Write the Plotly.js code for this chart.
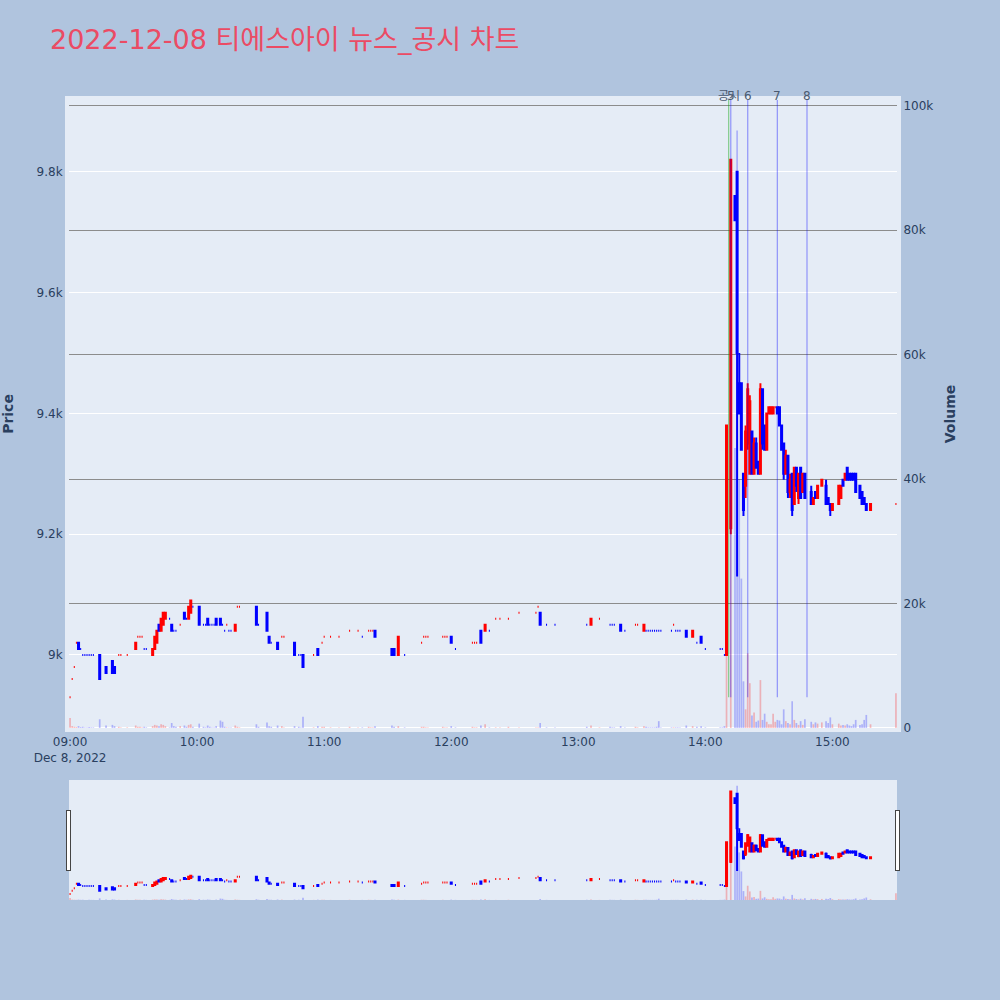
<!DOCTYPE html>
<html>
<head>
<meta charset="utf-8">
<script src="https://cdn.plot.ly/plotly-3.0.1.min.js"></script>
<style>html,body{margin:0;padding:0;background:#B0C4DE;}</style>
</head>
<body>
<div id="chart" style="width:1000px;height:1000px;"></div>
<script>
const day = '2022-12-08';
const chartTitle = '2022-12-08 티에스아이 뉴스_공시 차트';

const times = [
'09:00','09:01','09:02','09:03','09:04','09:05','09:06','09:07','09:08','09:09',
'09:10','09:11','09:14','09:17','09:20','09:21','09:23','09:24','09:27','09:31',
'09:32','09:33','09:34','09:35','09:36','09:39','09:40','09:41','09:42','09:43',
'09:44','09:45','09:47','09:48','09:49','09:50','09:52','09:54','09:55','09:56',
'09:57','09:58','10:01','10:03','10:04','10:05','10:06','10:07','10:08','10:09',
'10:11','10:12','10:13','10:14','10:15','10:16','10:18','10:19','10:20','10:28',
'10:29','10:33','10:34','10:35','10:38','10:40','10:41','10:46','10:48','10:49',
'10:50','10:55','10:57','10:59','11:00','11:03','11:07','11:12','11:16','11:18',
'11:21','11:22','11:23','11:24','11:32','11:33','11:35','11:38','11:46','11:47',
'11:48','11:49','11:56','11:57','11:58','12:00','12:02','12:10','12:11','12:12',
'12:14','12:16','12:18','12:21','12:23','12:27','12:32','12:40','12:41','12:42',
'12:45','12:49','13:04','13:06','13:10','13:15','13:16','13:17','13:20','13:22',
'13:27','13:28','13:31','13:32','13:33','13:34','13:35','13:36','13:37','13:38',
'13:39','13:44','13:45','13:46','13:47','13:48','13:51','13:54','13:56','13:58',
'14:00','14:07','14:08','14:09','14:10','14:12','14:14','14:15','14:16','14:17',
'14:18','14:19','14:20','14:21','14:22','14:23','14:24','14:25','14:26','14:27',
'14:28','14:29','14:30','14:31','14:32','14:33','14:34','14:35','14:36','14:37',
'14:38','14:39','14:40','14:41','14:42','14:43','14:44','14:45','14:46','14:47',
'14:50','14:51','14:52','14:53','14:55','14:57','14:58','14:59','15:00','15:03',
'15:04','15:05','15:06','15:07','15:08','15:09','15:10','15:11','15:13','15:14',
'15:15','15:16','15:18','15:30'
];

const opens = [
8930,8960,8980,9020,9020,9010,9000,9000,9000,9000,
9000,9000,9000,8980,8990,8980,9000,9000,9000,9010,
9030,9030,9030,9010,9010,9000,9010,9020,9050,9040,
9050,9060,9060,9050,9040,9040,9050,9070,9060,9060,
9070,9080,9080,9050,9050,9060,9050,9050,9050,9060,
9060,9050,9040,9050,9040,9040,9040,9080,9080,9080,
9050,9070,9030,9020,9020,9030,9030,9020,9000,9000,
9000,9000,9010,9020,9030,9030,9030,9040,9040,9030,
9040,9040,9040,9040,9010,9010,9000,9000,9020,9030,
9030,9030,9030,9030,9030,9030,9010,9020,9020,9020,
9040,9040,9040,9060,9060,9060,9070,9070,9080,9070,
9050,9050,9050,9050,9060,9050,9050,9050,9050,9040,
9050,9050,9040,9040,9040,9040,9040,9040,9040,9040,
9040,9040,9050,9040,9040,9040,9040,9030,9020,9030,
9010,9010,9010,9000,9000,9210,9760,9800,9450,9450,
9300,9280,9350,9300,9370,9300,9350,9320,9300,9440,
9380,9340,9400,9400,9400,9410,9410,9410,9380,9350,
9300,9330,9270,9300,9250,9310,9260,9310,9270,9300,
9270,9250,9270,9260,9280,9280,9260,9250,9240,9250,
9260,9290,9290,9310,9300,9300,9300,9300,9280,9270,
9260,9250,9240,9250
];

const highs = [
8930,8960,8980,9020,9020,9010,9000,9000,9000,9000,
9000,9000,9000,8980,8990,8980,9000,9000,9000,9020,
9030,9030,9030,9010,9010,9010,9030,9040,9050,9060,
9070,9070,9060,9050,9040,9040,9050,9070,9060,9080,
9090,9080,9080,9050,9050,9060,9050,9050,9050,9060,
9060,9050,9040,9050,9040,9040,9050,9080,9080,9080,
9050,9070,9030,9020,9020,9030,9030,9020,9000,9000,
9000,9000,9010,9020,9030,9030,9030,9040,9040,9030,
9040,9040,9040,9040,9010,9010,9030,9000,9020,9030,
9030,9030,9030,9030,9030,9030,9010,9020,9020,9020,
9040,9050,9040,9060,9060,9060,9070,9070,9080,9070,
9050,9050,9050,9060,9060,9050,9050,9050,9050,9040,
9050,9050,9050,9040,9040,9040,9040,9040,9040,9040,
9040,9040,9050,9040,9040,9040,9040,9040,9020,9030,
9010,9010,9010,9000,9380,9820,9760,9800,9500,9450,
9300,9380,9450,9430,9370,9360,9360,9320,9450,9440,
9380,9400,9410,9410,9410,9410,9410,9410,9380,9350,
9340,9330,9300,9300,9310,9310,9300,9310,9300,9300,
9280,9260,9270,9280,9290,9290,9260,9250,9250,9280,
9280,9290,9300,9310,9300,9300,9300,9300,9280,9270,
9260,9250,9250,9250
];

const lows = [
8930,8960,8980,9020,9010,9010,9000,9000,9000,9000,
9000,9000,8960,8970,8970,8970,9000,9000,9000,9010,
9030,9030,9030,9010,9010,9000,9010,9020,9040,9040,
9050,9060,9060,9040,9040,9040,9050,9060,9060,9060,
9070,9080,9050,9050,9050,9050,9050,9050,9050,9050,
9050,9050,9040,9050,9040,9040,9040,9080,9080,9050,
9050,9040,9020,9020,9010,9030,9030,9000,9000,9000,
8980,9000,9000,9020,9030,9030,9030,9040,9040,9030,
9040,9040,9040,9030,9000,9000,9000,9000,9020,9030,
9030,9030,9030,9030,9030,9020,9010,9020,9020,9020,
9020,9040,9040,9060,9060,9060,9070,9070,9080,9050,
9050,9050,9050,9050,9060,9050,9050,9050,9040,9040,
9050,9050,9040,9040,9040,9040,9040,9040,9040,9040,
9040,9040,9050,9040,9040,9040,9030,9030,9020,9020,
9010,9010,9010,9000,9000,9200,9720,9130,9400,9340,
9230,9260,9340,9300,9300,9300,9310,9300,9300,9340,
9340,9340,9400,9400,9400,9410,9400,9380,9340,9290,
9300,9260,9260,9230,9250,9270,9250,9260,9270,9260,
9250,9250,9260,9260,9280,9250,9250,9230,9240,9250,
9260,9280,9290,9290,9290,9290,9290,9270,9260,9250,
9250,9240,9240,9250
];

const closes = [
8930,8960,8980,9020,9010,9010,9000,9000,9000,9000,
9000,9000,8960,8970,8970,8970,9000,9000,9000,9020,
9030,9030,9030,9010,9010,9010,9030,9040,9040,9060,
9070,9070,9060,9040,9040,9040,9050,9060,9060,9080,
9090,9080,9050,9050,9050,9050,9050,9050,9050,9050,
9050,9050,9040,9050,9040,9040,9050,9080,9080,9050,
9050,9040,9020,9020,9010,9030,9030,9000,9000,9000,
8980,9000,9000,9020,9030,9030,9030,9040,9040,9030,
9040,9040,9040,9030,9000,9000,9030,9000,9020,9030,
9030,9030,9030,9030,9030,9020,9010,9020,9020,9020,
9020,9050,9040,9060,9060,9060,9070,9070,9080,9050,
9050,9050,9050,9060,9060,9050,9050,9050,9040,9040,
9050,9050,9050,9040,9040,9040,9040,9040,9040,9040,
9040,9040,9050,9040,9040,9040,9030,9040,9020,9020,
9010,9010,9010,9000,9380,9820,9720,9500,9400,9340,
9240,9370,9440,9420,9300,9350,9310,9300,9440,9350,
9340,9400,9410,9410,9410,9410,9400,9380,9340,9300,
9330,9270,9290,9240,9310,9280,9300,9260,9300,9260,
9250,9260,9260,9280,9290,9250,9250,9240,9250,9280,
9280,9280,9300,9290,9290,9290,9290,9270,9260,9250,
9250,9240,9250,9250
];

const volumes = [
1600,300,200,150,300,150,200,100,100,150,
100,100,1400,400,500,300,200,100,100,400,
200,200,100,200,100,300,500,400,300,600,
500,300,100,800,300,200,300,400,200,500,
600,200,700,200,100,400,200,100,100,300,
1200,1000,200,100,100,100,400,200,100,600,
200,900,300,200,400,300,100,300,200,100,
1800,100,300,200,200,100,100,200,100,100,
200,100,100,300,400,200,300,100,200,200,
100,100,200,100,100,300,100,200,100,100,
400,600,100,100,100,200,100,100,100,800,
100,100,200,400,100,200,100,100,300,100,
200,100,300,200,100,100,100,100,200,1100,
100,100,100,100,100,100,400,300,200,300,
100,100,100,300,25000,70000,45000,96000,40000,24000,
7500,3000,12000,7200,2000,2500,1000,1200,7700,1300,
2300,1000,600,600,2300,1000,1300,1200,600,3000,
1100,800,600,4300,1300,800,500,1100,500,1400,
1000,600,900,700,900,1100,800,1700,600,700,
400,500,400,600,400,300,600,1300,500,600,
1300,2100,600,5600
];

const markerTimes = ['14:11','14:12','14:20','14:34','14:48'];
const markerLabels = ['공시','5','6','7','8'];

const xs = times.map(t => day + ' ' + t + ':00');

// bar colours follow the candle direction (same rule as the candlestick trace)
const barColors = [];
let inc = true, cPrev = null;
for (let i = 0; i < closes.length; i++) {
  const o = opens[i], c = closes[i];
  if (c === o) {
    if (cPrev !== null && c !== cPrev) inc = c > cPrev;
  } else {
    inc = c > o;
  }
  cPrev = c;
  barColors.push(inc ? 'rgba(255,0,0,0.25)' : 'rgba(0,0,255,0.25)');
}

const volTrace = {
  type: 'bar', x: xs, y: volumes, yaxis: 'y2',
  marker: {color: barColors, line: {width: 0}},
  showlegend: false, hoverinfo: 'x+y'
};
const candleTrace = {
  type: 'candlestick', x: xs, open: opens, high: highs, low: lows, close: closes,
  increasing: {line: {color: '#ff0000', width: 2}, fillcolor: '#ff0000'},
  decreasing: {line: {color: '#0000ff', width: 2}, fillcolor: '#0000ff'},
  showlegend: false
};

const xRange = [day + ' 08:59:30', day + ' 15:30:30'];
const yRange = [8879, 9919];
const y2Range = [0, 100900];
const lineLow = 8930;

const shapes = markerTimes.map((t, i) => ({
  type: 'line', xref: 'x', yref: 'y',
  x0: day + ' ' + t + ':00', x1: day + ' ' + t + ':00',
  y0: lineLow, y1: yRange[1],
  line: {color: i === 0 ? 'rgba(0,160,0,0.4)' : 'rgba(0,0,255,0.35)', width: 1.3},
  layer: 'above'
}));
const annotations = markerTimes.map((t, i) => ({
  x: day + ' ' + t + ':00', xref: 'x', y: 1, yref: 'paper',
  text: markerLabels[i], showarrow: false, xanchor: 'center', yanchor: 'middle', yshift: 4,
  font: {size: 12, color: '#4a5a70'}
}));

const bg = '#E5ECF6';
const baseFont = '"DejaVu Sans", verdana, "Noto Sans CJK KR", sans-serif';
const layout = {
  width: 1000, height: 1000,
  paper_bgcolor: '#B0C4DE', plot_bgcolor: bg,
  font: {family: baseFont, size: 12, color: '#2a3f5f'},
  title: {text: chartTitle, x: 0.05, xanchor: 'left', y: 0.96, yanchor: 'middle',
          font: {size: 27, color: '#EB4B64', family: baseFont}},
  margin: {l: 69, r: 103, t: 100, b: 100},
  showlegend: false,
  bargap: 0.2,
  xaxis: {
    type: 'date', range: xRange, autorange: false, showgrid: false, zeroline: false,
    showline: true, linecolor: bg, linewidth: 4, mirror: true,
    rangeslider: {visible: true, range: xRange, autorange: false, bgcolor: bg, thickness: 0.15, borderwidth: 0}
  },
  yaxis: {
    range: yRange, autorange: false, gridcolor: '#ffffff', gridwidth: 1, zeroline: false,
    showline: true, linecolor: bg, linewidth: 4, mirror: true,
    title: {text: '<b>Price</b>', font: {size: 14, color: '#2a3f5f'}, standoff: 22}
  },
  yaxis2: {
    overlaying: 'y', side: 'right', range: y2Range, autorange: false,
    gridcolor: '#8c8c8c', gridwidth: 1, showgrid: true,
    showline: true, linecolor: bg, linewidth: 4,
    zeroline: true, zerolinecolor: '#ffffff', zerolinewidth: 2,
    title: {text: '<b>Volume</b>', font: {size: 14, color: '#2a3f5f'}, standoff: 14}
  },
  shapes: shapes,
  annotations: annotations
};

Plotly.newPlot('chart', [volTrace, candleTrace], layout, {displayModeBar: false});
</script>
</body>
</html>
